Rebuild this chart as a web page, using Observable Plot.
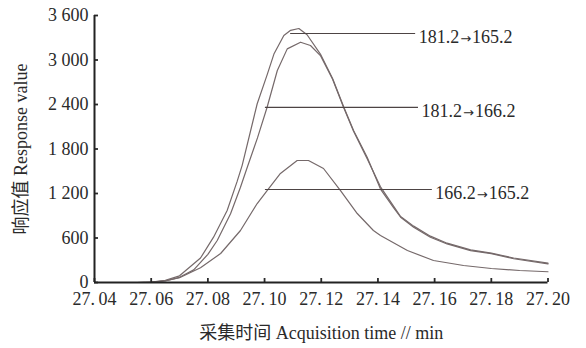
<!DOCTYPE html>
<html>
<head>
<meta charset="utf-8">
<script src="https://cdn.jsdelivr.net/npm/d3@7"></script>
<script src="https://cdn.jsdelivr.net/npm/@observablehq/plot@0.6"></script>
<style>
  html, body { margin: 0; padding: 0; background: #fff; }
</style>
</head>
<body>
<div id="chart"></div>
<script>
// Series names (also annotation labels)
const seriesNames = ["181.2→165.2", "181.2→166.2", "166.2→165.2"];

// 181.2→165.2
const timeA = [27.04, 27.055, 27.06, 27.065, 27.07, 27.0774, 27.082, 27.0868, 27.0903, 27.0921, 27.0974, 27.1009, 27.1033, 27.1068, 27.1092, 27.1121, 27.115, 27.1197, 27.124, 27.1279, 27.1314, 27.1362, 27.1409, 27.1455, 27.148, 27.1526, 27.1585, 27.1644, 27.1727, 27.18, 27.1879, 27.20];
const valueA = [0, 0, 5, 30, 90, 330, 611, 971, 1360, 1580, 2410, 2800, 3080, 3330, 3400, 3425, 3340, 3080, 2750, 2370, 2050, 1690, 1260, 1010, 880, 745, 610, 520, 430, 390, 320, 250];

// 181.2→166.2
const timeB = [27.04, 27.055, 27.06, 27.065, 27.07, 27.075, 27.08, 27.0833, 27.088, 27.0915, 27.0939, 27.0975, 27.1009, 27.1045, 27.108, 27.1127, 27.1162, 27.1197, 27.124, 27.1279, 27.1314, 27.1362, 27.1409, 27.1455, 27.148, 27.1526, 27.1585, 27.1644, 27.1727, 27.18, 27.1879, 27.20];
const valueB = [0, 0, 4, 22, 70, 170, 380, 566, 926, 1285, 1554, 1950, 2363, 2858, 3150, 3240, 3195, 3060, 2740, 2360, 2040, 1670, 1290, 1030, 890, 760, 625, 530, 440, 395, 330, 260];

// 166.2→165.2
const timeC = [27.04, 27.058, 27.062, 27.066, 27.07, 27.0774, 27.0845, 27.0915, 27.0974, 27.1009, 27.1056, 27.1115, 27.1155, 27.1208, 27.1268, 27.1327, 27.1384, 27.1409, 27.1504, 27.1596, 27.1702, 27.18, 27.19, 27.20];
const valueC = [0, 0, 8, 30, 65, 200, 391, 701, 1065, 1240, 1470, 1645, 1645, 1537, 1240, 930, 701, 634, 431, 297, 229, 189, 162, 145];

// Ticks
const xTicks = [27.04, 27.06, 27.08, 27.10, 27.12, 27.14, 27.16, 27.18, 27.20];
const xTickLabels = ["27.\u200904", "27.\u200906", "27.\u200908", "27.\u200910", "27.\u200912", "27.\u200914", "27.\u200916", "27.\u200918", "27.\u200920"];
const yTicks = [0, 600, 1200, 1800, 2400, 3000, 3600];
const yTickLabels = ["0", "600", "1 200", "1 800", "2 400", "3 000", "3 600"];

// Titles
const xTitle = "采集时间 Acquisition time // min";
const yTitle = "响应值 Response value";

// Annotation leader lines
const annotY = [3357, 2360, 1254];
const annotX1 = [27.1092, 27.1003, 27.1003];
const annotX2 = [27.1533, 27.1543, 27.1592];

const series = [
  {name: seriesNames[0], t: timeA, v: valueA},
  {name: seriesNames[1], t: timeB, v: valueB},
  {name: seriesNames[2], t: timeC, v: valueC}
];
const rows = series.flatMap(s => s.t.map((t, i) => ({series: s.name, time: t, value: s.v[i]})));
const annots = seriesNames.map((n, i) => ({label: n, y: annotY[i], x1: annotX1[i], x2: annotX2[i]}));

const font = "'Liberation Serif', 'DejaVu Serif', 'Noto Sans CJK SC', serif";

const chart = Plot.plot({
  width: 586,
  height: 348,
  marginLeft: 94,
  marginRight: 38.5,
  marginTop: 15,
  marginBottom: 66,
  style: {fontFamily: font, fontSize: "18px", color: "#2a2a2a", background: "#fff"},
  x: {domain: [27.04, 27.20]},
  y: {domain: [0, 3600]},
  marks: [
    Plot.line(rows, {x: "time", y: "value", z: "series", stroke: "#75696a", strokeWidth: 1.2}),
    Plot.ruleY(annots, {y: "y", x1: "x1", x2: "x2", stroke: "#4d4444", strokeWidth: 1.2}),
    Plot.text(annots, {x: "x2", y: "y", text: "label", textAnchor: "start", dx: 3, dy: 4, fontSize: 18, fill: "#2a2a2a", className: "annot"}),
    Plot.axisX({
      ticks: xTicks,
      tickFormat: d => xTickLabels[xTicks.indexOf(d)],
      tickSize: -4,
      tickPadding: 14,
      strokeWidth: 1.8,
      fontSize: 18,
      label: xTitle,
      labelAnchor: "center",
      labelOffset: 56,
      labelArrow: "none"
    }),
    Plot.axisY({
      ticks: yTicks,
      tickFormat: d => yTickLabels[yTicks.indexOf(d)],
      tickSize: -4,
      tickPadding: 10,
      strokeWidth: 1.8,
      fontSize: 18,
      label: yTitle,
      labelAnchor: "center",
      labelOffset: 80,
      labelArrow: "none"
    }),
    Plot.ruleY([0], {stroke: "#222", strokeWidth: 2}),
    Plot.ruleX([27.04], {stroke: "#222", strokeWidth: 2})
  ]
});

// Render the arrow glyph of each annotation label with a font whose arrow is centred
const svgNS = "http://www.w3.org/2000/svg";
chart.querySelectorAll(".annot text").forEach(t => {
  const s = t.textContent;
  const parts = s.split("→");
  if (parts.length !== 2) return;
  t.textContent = "";
  const a = document.createElementNS(svgNS, "tspan");
  a.textContent = parts[0];
  const arrow = document.createElementNS(svgNS, "tspan");
  arrow.textContent = "→";
  arrow.setAttribute("font-family", "'DejaVu Sans'");
  arrow.setAttribute("font-size", "13");
  arrow.setAttribute("dx", "1");
  const b = document.createElementNS(svgNS, "tspan");
  b.textContent = parts[1];
  b.setAttribute("dx", "1");
  t.append(a, arrow, b);
});

document.getElementById("chart").appendChild(chart);
</script>
</body>
</html>
